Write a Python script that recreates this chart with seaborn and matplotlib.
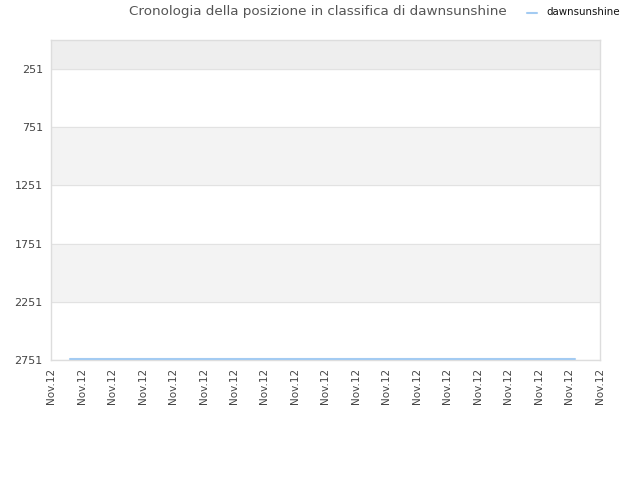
import matplotlib
matplotlib.use('Agg')
import matplotlib.pyplot as plt
import seaborn as sns
import pandas as pd

# rank history (x in tick units, y = rank position)
days = [0.62, 1, 2, 3, 4, 5, 6, 7, 8, 9, 10, 11, 12, 13, 14, 15, 16, 17, 17.2]
ranks = [2742, 2742, 2742, 2742, 2742, 2742, 2742, 2742, 2742, 2742,
         2742, 2742, 2742, 2742, 2742, 2742, 2742, 2742, 2742]
x_labels = ['Nov.12'] * 19
y_ticks = [251, 751, 1251, 1751, 2251, 2751]
series_name = 'dawnsunshine'
title = 'Cronologia della posizione in classifica di dawnsunshine'

df = pd.DataFrame({'day': days, 'rank': ranks, 'player': series_name})

sns.set_style('white')
plt.rcParams['font.family'] = ['DejaVu Sans']

fig = plt.figure(figsize=(6.4, 4.8), dpi=100)
ax = fig.add_axes([0.08, 0.25, 0.857, 0.667])

# alternating bands
ax.axhspan(1, 251, color='#eeeeee', zorder=0)
ax.axhspan(751, 1251, color='#f3f3f3', zorder=0)
ax.axhspan(1751, 2251, color='#f3f3f3', zorder=0)
for v in y_ticks:
    ax.axhline(v, color='#e2e2e2', lw=0.8, zorder=1)

sns.lineplot(data=df, x='day', y='rank', hue='player', palette=['#a3cbf2'],
             lw=1.5, ax=ax, legend=False, zorder=3)

ax.set_xlim(0, 18)
ax.set_ylim(2751, 1)
ax.set_xticks(range(len(x_labels)))
ax.set_xticklabels(x_labels, rotation=90, fontsize=7.5, color='#444444')
ax.set_yticks(y_ticks)
ax.set_yticklabels([str(v) for v in y_ticks], fontsize=8, color='#444444')
ax.tick_params(length=0, pad=6)
ax.set_xlabel('')
ax.set_ylabel('')
for s in ax.spines.values():
    s.set_color('#dddddd')
    s.set_linewidth(1)

fig.text(0.497, 0.975, title, ha='center', va='center', fontsize=9.7, color='#555555')
fig.lines.append(plt.Line2D([0.824, 0.839], [0.972, 0.972], color='#a3cbf2',
                            lw=1.5, transform=fig.transFigure))
fig.text(0.854, 0.975, series_name, ha='left', va='center', fontsize=7.4, color='#111111')

fig.savefig('out.png', dpi=100)
